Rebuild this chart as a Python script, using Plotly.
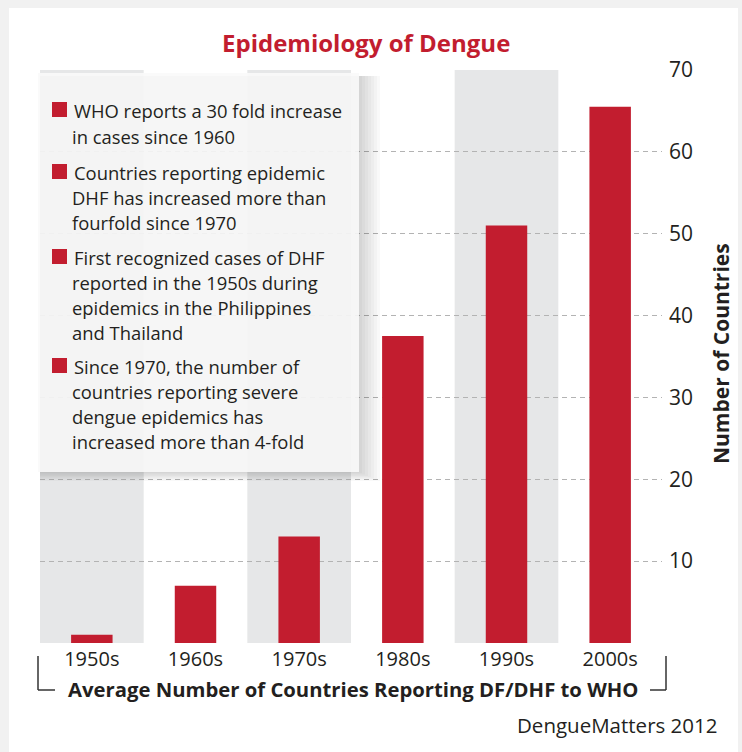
import plotly.graph_objects as go

decades = ["1950s", "1960s", "1970s", "1980s", "1990s", "2000s"]
countries = [1, 7, 13, 37.5, 51, 65.5]
y_ticks = [10, 20, 30, 40, 50, 60, 70]

notes = [
    ["WHO reports a 30 fold increase", "in cases since 1960"],
    ["Countries reporting epidemic", "DHF has increased more than", "fourfold since 1970"],
    ["First recognized cases of DHF", "reported in the 1950s during",
     "epidemics in the Philippines", "and Thailand"],
    ["Since 1970, the number of", "countries reporting severe",
     "dengue epidemics has", "increased more than 4-fold"],
]

title_text = "Epidemiology of Dengue"
x_title = "Average Number of Countries Reporting DF/DHF to WHO"
y_title = "Number of Countries"
source = "DengueMatters 2012"

W, H = 742, 752
L, R, T, B = 40, 662, 70, 643
RED = "#c21d2f"
TXT = "#231f20"
FONT = "Open Sans"


def px(x):
    return (x - L) / (R - L)


def py(y):
    return (B - y) / (B - T)


fig = go.Figure()
fig.add_trace(go.Bar(x=decades, y=countries, marker=dict(color=RED, line=dict(width=0)),
                     width=0.4, hoverinfo="x+y"))

shapes = []
# white card on light gray page
shapes.append(dict(type="rect", xref="paper", yref="paper", x0=px(9), x1=px(738),
                   y0=py(8), y1=py(760), fillcolor="white", line=dict(width=0), layer="below"))
# alternating gray bands
for i in range(0, len(decades), 2):
    shapes.append(dict(type="rect", xref="x", yref="paper", x0=i - 0.5, x1=i + 0.5,
                       y0=0, y1=1, fillcolor="#e6e7e8", line=dict(width=0), layer="below"))
# legend box shadow
for k in range(1, 8):
    shapes.append(dict(type="rect", xref="paper", yref="paper",
                       x0=px(40), x1=px(359 + k * 3), y0=py(472 + k * 1.3), y1=py(76),
                       fillcolor="rgba(0,0,0,0.025)", line=dict(width=0), layer="above"))
shapes.append(dict(type="rect", xref="paper", yref="paper", x0=px(38), x1=px(359),
                   y0=py(472), y1=py(73), fillcolor="rgba(250,250,250,0.9)",
                   line=dict(width=0), layer="above"))
# brackets around x-axis title
bk = dict(color="#333333", width=1.5)
for (x0, y0, x1, y1) in [(38, 656, 38, 690), (38, 690, 55, 690),
                         (666, 656, 666, 690), (650, 690, 666, 690)]:
    shapes.append(dict(type="line", xref="paper", yref="paper", x0=px(x0), x1=px(x1),
                       y0=py(y0), y1=py(y1), line=bk, layer="above"))

annotations = []
line_y = [[110, 136], [172, 197, 222], [257, 282, 307, 332], [366, 391, 416, 441]]
for note, ys in zip(notes, line_y):
    shapes.append(dict(type="rect", xref="paper", yref="paper", x0=px(52), x1=px(67),
                       y0=py(ys[0] + 7), y1=py(ys[0] - 8), fillcolor=RED,
                       line=dict(width=0), layer="above"))
    for j, (txt, yy) in enumerate(zip(note, ys)):
        annotations.append(dict(text=txt, xref="paper", yref="paper", x=px(72 if j == 0 else 70),
                                y=py(yy), xanchor="left", yanchor="middle", showarrow=False,
                                font=dict(family=FONT, size=18.4, color=TXT)))

annotations.append(dict(text="<b>" + title_text + "</b>", xref="paper", yref="paper",
                        x=px(366), y=py(42), xanchor="center", yanchor="middle",
                        showarrow=False, font=dict(family=FONT, size=24, color=RED)))
annotations.append(dict(text="<b>" + x_title + "</b>", xref="paper", yref="paper",
                        x=px(353), y=py(689), xanchor="center", yanchor="middle",
                        showarrow=False, font=dict(family=FONT, size=20.3, color=TXT)))
annotations.append(dict(text="<b>" + y_title + "</b>", xref="paper", yref="paper",
                        x=px(721), y=py(354), xanchor="center", yanchor="middle",
                        textangle=-90, showarrow=False,
                        font=dict(family=FONT, size=21, color=TXT)))
annotations.append(dict(text=source, xref="paper", yref="paper",
                        x=px(720), y=py(725), xanchor="right", yanchor="middle",
                        showarrow=False, font=dict(family=FONT, size=20.5, color=TXT)))

fig.update_layout(
    width=W, height=H,
    margin=dict(l=L, r=W - R, t=T, b=H - B, pad=0),
    paper_bgcolor="#f1f1f1", plot_bgcolor="rgba(0,0,0,0)",
    showlegend=False, bargap=0.6,
    shapes=shapes, annotations=annotations,
    font=dict(family=FONT, color=TXT),
)
fig.update_xaxes(type="category", categoryorder="array", categoryarray=decades,
                 range=[-0.5, len(decades) - 0.5], showgrid=False, showline=False,
                 zeroline=False, ticks="", tickfont=dict(family=FONT, size=20, color=TXT),
                 ticklabelstandoff=2)
fig.update_yaxes(range=[0, 70], side="right", tickvals=y_ticks, showgrid=True,
                 griddash="5px,4px", gridcolor="#b3b3b3", gridwidth=1, zeroline=False,
                 showline=False, ticks="", tickfont=dict(family=FONT, size=21, color=TXT),
                 ticklabelstandoff=6)

fig.write_html("out.html", config={"displayModeBar": False},
               post_script="document.body.style.margin='0';document.body.style.background='#f1f1f1';")
